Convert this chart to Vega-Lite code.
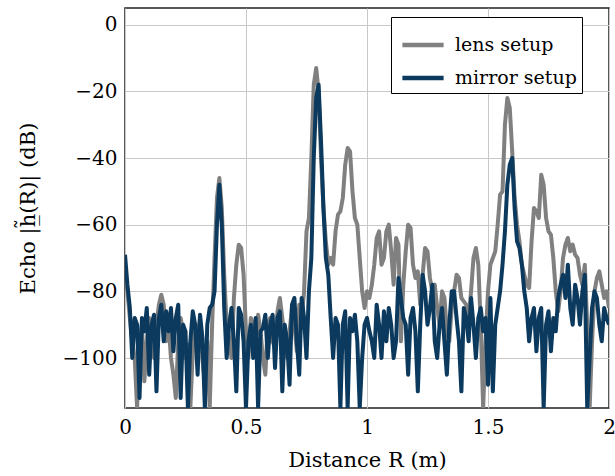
{
  "$schema": "https://vega.github.io/schema/vega-lite/v6.json",
  "autosize": "none",
  "width": 484,
  "height": 400,
  "padding": {"left": 125, "top": 8, "right": 6, "bottom": 68},
  "background": "white",
  "config": {
    "font": "DejaVu Serif",
    "view": {"stroke": "#222222", "strokeWidth": 1.5},
    "axis": {
      "labelFont": "DejaVu Serif",
      "titleFont": "DejaVu Serif",
      "labelFontSize": 20,
      "titleFontSize": 21,
      "titleFontWeight": "normal",
      "labelColor": "black",
      "titleColor": "black",
      "gridColor": "#c8c8c8",
      "gridWidth": 1,
      "domain": false,
      "ticks": false,
      "labelFlush": false
    },
    "legend": {
      "labelFont": "DejaVu Serif",
      "labelFontSize": 19,
      "labelColor": "black"
    }
  },
  "datasets": {
    "lens": [
      {"R":0.00,"dB":-75},{"R":0.01,"dB":-80},{"R":0.02,"dB":-88},{"R":0.03,"dB":-95},{"R":0.04,"dB":-100},{"R":0.05,"dB":-115},{"R":0.06,"dB":-95},{"R":0.07,"dB":-90},{"R":0.08,"dB":-107},{"R":0.09,"dB":-95},
      {"R":0.10,"dB":-88},{"R":0.11,"dB":-92},{"R":0.12,"dB":-100},{"R":0.13,"dB":-90},{"R":0.14,"dB":-84},{"R":0.15,"dB":-81},{"R":0.16,"dB":-84},{"R":0.17,"dB":-95},{"R":0.18,"dB":-90},{"R":0.19,"dB":-100},
      {"R":0.20,"dB":-105},{"R":0.21,"dB":-112},{"R":0.22,"dB":-95},{"R":0.23,"dB":-88},{"R":0.24,"dB":-92},{"R":0.25,"dB":-100},{"R":0.26,"dB":-96},{"R":0.27,"dB":-115},{"R":0.28,"dB":-98},{"R":0.29,"dB":-90},
      {"R":0.30,"dB":-94},{"R":0.31,"dB":-88},{"R":0.32,"dB":-100},{"R":0.33,"dB":-108},{"R":0.34,"dB":-95},{"R":0.35,"dB":-115},{"R":0.36,"dB":-90},{"R":0.37,"dB":-70},{"R":0.38,"dB":-52},{"R":0.39,"dB":-46},
      {"R":0.40,"dB":-55},{"R":0.41,"dB":-75},{"R":0.42,"dB":-90},{"R":0.43,"dB":-95},{"R":0.44,"dB":-100},{"R":0.45,"dB":-82},{"R":0.46,"dB":-72},{"R":0.47,"dB":-66},{"R":0.48,"dB":-67},{"R":0.49,"dB":-75},
      {"R":0.50,"dB":-92},{"R":0.51,"dB":-100},{"R":0.52,"dB":-88},{"R":0.53,"dB":-90},{"R":0.54,"dB":-96},{"R":0.55,"dB":-87},{"R":0.56,"dB":-92},{"R":0.57,"dB":-100},{"R":0.58,"dB":-105},{"R":0.59,"dB":-90},
      {"R":0.60,"dB":-88},{"R":0.61,"dB":-95},{"R":0.62,"dB":-97},{"R":0.63,"dB":-86},{"R":0.64,"dB":-82},{"R":0.65,"dB":-88},{"R":0.66,"dB":-95},{"R":0.67,"dB":-100},{"R":0.68,"dB":-92},{"R":0.69,"dB":-85},
      {"R":0.70,"dB":-90},{"R":0.71,"dB":-98},{"R":0.72,"dB":-84},{"R":0.73,"dB":-88},{"R":0.74,"dB":-80},{"R":0.75,"dB":-62},{"R":0.76,"dB":-58},{"R":0.77,"dB":-40},{"R":0.78,"dB":-18},{"R":0.79,"dB":-13},
      {"R":0.80,"dB":-20},{"R":0.81,"dB":-40},{"R":0.82,"dB":-55},{"R":0.83,"dB":-65},{"R":0.84,"dB":-72},{"R":0.85,"dB":-70},{"R":0.86,"dB":-72},{"R":0.87,"dB":-62},{"R":0.88,"dB":-57},{"R":0.89,"dB":-56},
      {"R":0.90,"dB":-52},{"R":0.91,"dB":-42},{"R":0.92,"dB":-37},{"R":0.93,"dB":-38},{"R":0.94,"dB":-50},{"R":0.95,"dB":-58},{"R":0.96,"dB":-60},{"R":0.97,"dB":-70},{"R":0.98,"dB":-80},{"R":0.99,"dB":-85},
      {"R":1.00,"dB":-80},{"R":1.01,"dB":-82},{"R":1.02,"dB":-78},{"R":1.03,"dB":-72},{"R":1.04,"dB":-64},{"R":1.05,"dB":-62},{"R":1.06,"dB":-72},{"R":1.07,"dB":-70},{"R":1.08,"dB":-62},{"R":1.09,"dB":-60},
      {"R":1.10,"dB":-68},{"R":1.11,"dB":-78},{"R":1.12,"dB":-64},{"R":1.13,"dB":-66},{"R":1.14,"dB":-95},{"R":1.15,"dB":-78},{"R":1.16,"dB":-68},{"R":1.17,"dB":-60},{"R":1.18,"dB":-61},{"R":1.19,"dB":-72},
      {"R":1.20,"dB":-76},{"R":1.21,"dB":-74},{"R":1.22,"dB":-84},{"R":1.23,"dB":-75},{"R":1.24,"dB":-67},{"R":1.25,"dB":-68},{"R":1.26,"dB":-76},{"R":1.27,"dB":-80},{"R":1.28,"dB":-78},{"R":1.29,"dB":-85},
      {"R":1.30,"dB":-90},{"R":1.31,"dB":-80},{"R":1.32,"dB":-82},{"R":1.33,"dB":-92},{"R":1.34,"dB":-95},{"R":1.35,"dB":-85},{"R":1.36,"dB":-80},{"R":1.37,"dB":-75},{"R":1.38,"dB":-76},{"R":1.39,"dB":-82},
      {"R":1.40,"dB":-83},{"R":1.41,"dB":-84},{"R":1.42,"dB":-88},{"R":1.43,"dB":-80},{"R":1.44,"dB":-70},{"R":1.45,"dB":-67},{"R":1.46,"dB":-72},{"R":1.47,"dB":-90},{"R":1.48,"dB":-115},{"R":1.49,"dB":-95},
      {"R":1.50,"dB":-80},{"R":1.51,"dB":-72},{"R":1.52,"dB":-70},{"R":1.53,"dB":-68},{"R":1.54,"dB":-60},{"R":1.55,"dB":-51},{"R":1.56,"dB":-50},{"R":1.57,"dB":-30},{"R":1.58,"dB":-22},{"R":1.59,"dB":-25},
      {"R":1.60,"dB":-38},{"R":1.61,"dB":-52},{"R":1.62,"dB":-60},{"R":1.63,"dB":-65},{"R":1.64,"dB":-72},{"R":1.65,"dB":-75},{"R":1.66,"dB":-78},{"R":1.67,"dB":-79},{"R":1.68,"dB":-65},{"R":1.69,"dB":-55},
      {"R":1.70,"dB":-56},{"R":1.71,"dB":-58},{"R":1.72,"dB":-45},{"R":1.73,"dB":-48},{"R":1.74,"dB":-58},{"R":1.75,"dB":-62},{"R":1.76,"dB":-63},{"R":1.77,"dB":-70},{"R":1.78,"dB":-80},{"R":1.79,"dB":-86},
      {"R":1.80,"dB":-80},{"R":1.81,"dB":-70},{"R":1.82,"dB":-66},{"R":1.83,"dB":-64},{"R":1.84,"dB":-68},{"R":1.85,"dB":-66},{"R":1.86,"dB":-69},{"R":1.87,"dB":-70},{"R":1.88,"dB":-75},{"R":1.89,"dB":-78},
      {"R":1.90,"dB":-72},{"R":1.91,"dB":-90},{"R":1.92,"dB":-115},{"R":1.93,"dB":-95},{"R":1.94,"dB":-80},{"R":1.95,"dB":-76},{"R":1.96,"dB":-74},{"R":1.97,"dB":-78},{"R":1.98,"dB":-82},{"R":1.99,"dB":-80},
      {"R":2.00,"dB":-85}
    ],
    "mirror": [
      {"R":0.00,"dB":-69},{"R":0.01,"dB":-78},{"R":0.02,"dB":-85},{"R":0.03,"dB":-100},{"R":0.04,"dB":-88},{"R":0.05,"dB":-90},{"R":0.06,"dB":-112},{"R":0.07,"dB":-88},{"R":0.08,"dB":-92},{"R":0.09,"dB":-85},
      {"R":0.10,"dB":-105},{"R":0.11,"dB":-90},{"R":0.12,"dB":-87},{"R":0.13,"dB":-110},{"R":0.14,"dB":-88},{"R":0.15,"dB":-84},{"R":0.16,"dB":-95},{"R":0.17,"dB":-86},{"R":0.18,"dB":-92},{"R":0.19,"dB":-85},
      {"R":0.20,"dB":-98},{"R":0.21,"dB":-88},{"R":0.22,"dB":-84},{"R":0.23,"dB":-112},{"R":0.24,"dB":-90},{"R":0.25,"dB":-92},{"R":0.26,"dB":-115},{"R":0.27,"dB":-95},{"R":0.28,"dB":-86},{"R":0.29,"dB":-90},
      {"R":0.30,"dB":-105},{"R":0.31,"dB":-87},{"R":0.32,"dB":-94},{"R":0.33,"dB":-115},{"R":0.34,"dB":-90},{"R":0.35,"dB":-85},{"R":0.36,"dB":-84},{"R":0.37,"dB":-80},{"R":0.38,"dB":-60},{"R":0.39,"dB":-48},
      {"R":0.40,"dB":-60},{"R":0.41,"dB":-85},{"R":0.42,"dB":-100},{"R":0.43,"dB":-90},{"R":0.44,"dB":-85},{"R":0.45,"dB":-95},{"R":0.46,"dB":-110},{"R":0.47,"dB":-85},{"R":0.48,"dB":-87},{"R":0.49,"dB":-95},
      {"R":0.50,"dB":-115},{"R":0.51,"dB":-95},{"R":0.52,"dB":-90},{"R":0.53,"dB":-100},{"R":0.54,"dB":-88},{"R":0.55,"dB":-115},{"R":0.56,"dB":-92},{"R":0.57,"dB":-91},{"R":0.58,"dB":-87},{"R":0.59,"dB":-100},
      {"R":0.60,"dB":-90},{"R":0.61,"dB":-87},{"R":0.62,"dB":-103},{"R":0.63,"dB":-88},{"R":0.64,"dB":-86},{"R":0.65,"dB":-110},{"R":0.66,"dB":-90},{"R":0.67,"dB":-95},{"R":0.68,"dB":-108},{"R":0.69,"dB":-84},
      {"R":0.70,"dB":-82},{"R":0.71,"dB":-95},{"R":0.72,"dB":-105},{"R":0.73,"dB":-82},{"R":0.74,"dB":-88},{"R":0.75,"dB":-100},{"R":0.76,"dB":-80},{"R":0.77,"dB":-70},{"R":0.78,"dB":-40},{"R":0.79,"dB":-22},
      {"R":0.80,"dB":-18},{"R":0.81,"dB":-35},{"R":0.82,"dB":-55},{"R":0.83,"dB":-70},{"R":0.84,"dB":-75},{"R":0.85,"dB":-88},{"R":0.86,"dB":-100},{"R":0.87,"dB":-88},{"R":0.88,"dB":-90},{"R":0.89,"dB":-115},
      {"R":0.90,"dB":-90},{"R":0.91,"dB":-86},{"R":0.92,"dB":-115},{"R":0.93,"dB":-88},{"R":0.94,"dB":-92},{"R":0.95,"dB":-87},{"R":0.96,"dB":-95},{"R":0.97,"dB":-115},{"R":0.98,"dB":-100},{"R":0.99,"dB":-90},
      {"R":1.00,"dB":-88},{"R":1.01,"dB":-92},{"R":1.02,"dB":-95},{"R":1.03,"dB":-100},{"R":1.04,"dB":-84},{"R":1.05,"dB":-90},{"R":1.06,"dB":-100},{"R":1.07,"dB":-86},{"R":1.08,"dB":-95},{"R":1.09,"dB":-85},
      {"R":1.10,"dB":-90},{"R":1.11,"dB":-100},{"R":1.12,"dB":-95},{"R":1.13,"dB":-76},{"R":1.14,"dB":-82},{"R":1.15,"dB":-88},{"R":1.16,"dB":-90},{"R":1.17,"dB":-105},{"R":1.18,"dB":-88},{"R":1.19,"dB":-85},
      {"R":1.20,"dB":-92},{"R":1.21,"dB":-110},{"R":1.22,"dB":-90},{"R":1.23,"dB":-75},{"R":1.24,"dB":-80},{"R":1.25,"dB":-90},{"R":1.26,"dB":-85},{"R":1.27,"dB":-78},{"R":1.28,"dB":-95},{"R":1.29,"dB":-100},
      {"R":1.30,"dB":-90},{"R":1.31,"dB":-85},{"R":1.32,"dB":-95},{"R":1.33,"dB":-105},{"R":1.34,"dB":-90},{"R":1.35,"dB":-80},{"R":1.36,"dB":-80},{"R":1.37,"dB":-88},{"R":1.38,"dB":-95},{"R":1.39,"dB":-110},
      {"R":1.40,"dB":-85},{"R":1.41,"dB":-88},{"R":1.42,"dB":-95},{"R":1.43,"dB":-82},{"R":1.44,"dB":-90},{"R":1.45,"dB":-100},{"R":1.46,"dB":-88},{"R":1.47,"dB":-85},{"R":1.48,"dB":-92},{"R":1.49,"dB":-88},
      {"R":1.50,"dB":-108},{"R":1.51,"dB":-82},{"R":1.52,"dB":-110},{"R":1.53,"dB":-90},{"R":1.54,"dB":-85},{"R":1.55,"dB":-80},{"R":1.56,"dB":-72},{"R":1.57,"dB":-62},{"R":1.58,"dB":-48},{"R":1.59,"dB":-42},
      {"R":1.60,"dB":-40},{"R":1.61,"dB":-55},{"R":1.62,"dB":-65},{"R":1.63,"dB":-67},{"R":1.64,"dB":-72},{"R":1.65,"dB":-80},{"R":1.66,"dB":-85},{"R":1.67,"dB":-95},{"R":1.68,"dB":-88},{"R":1.69,"dB":-85},
      {"R":1.70,"dB":-98},{"R":1.71,"dB":-88},{"R":1.72,"dB":-85},{"R":1.73,"dB":-115},{"R":1.74,"dB":-90},{"R":1.75,"dB":-86},{"R":1.76,"dB":-98},{"R":1.77,"dB":-88},{"R":1.78,"dB":-92},{"R":1.79,"dB":-82},
      {"R":1.80,"dB":-78},{"R":1.81,"dB":-75},{"R":1.82,"dB":-82},{"R":1.83,"dB":-72},{"R":1.84,"dB":-85},{"R":1.85,"dB":-90},{"R":1.86,"dB":-78},{"R":1.87,"dB":-82},{"R":1.88,"dB":-90},{"R":1.89,"dB":-80},
      {"R":1.90,"dB":-75},{"R":1.91,"dB":-115},{"R":1.92,"dB":-100},{"R":1.93,"dB":-85},{"R":1.94,"dB":-80},{"R":1.95,"dB":-82},{"R":1.96,"dB":-90},{"R":1.97,"dB":-95},{"R":1.98,"dB":-85},{"R":1.99,"dB":-88},
      {"R":2.00,"dB":-90}
    ]
  },
  "layer": [
    {
      "data": {"name": "lens"},
      "transform": [{"calculate": "'lens setup'", "as": "setup"}],
      "mark": {"type": "line", "strokeWidth": 4, "clip": true, "strokeJoin": "round"},
      "encoding": {
        "x": {"field": "R", "type": "quantitative", "scale": {"domain": [0, 2], "nice": false},
          "axis": {"values": [0, 0.5, 1, 1.5, 2], "format": "~g", "title": "Distance R (m)", "labelPadding": 9, "titlePadding": 12}},
        "y": {"field": "dB", "type": "quantitative", "scale": {"domain": [-115, 5], "nice": false, "zero": false},
          "axis": {"values": [0, -20, -40, -60, -80, -100], "title": "Echo |h̲̃(R)| (dB)", "labelPadding": 8, "titlePadding": 24}},
        "color": {"field": "setup", "type": "nominal",
          "scale": {"domain": ["lens setup", "mirror setup"], "range": ["#808080", "#0b3a5e"]},
          "legend": {"title": null, "orient": "none", "legendX": 266, "legendY": 9,
            "symbolType": "stroke", "symbolSize": 1700, "symbolStrokeWidth": 4.5,
            "strokeColor": "black", "fillColor": "white", "padding": 5, "rowPadding": -10, "labelOffset": 9, "symbolOffset": 4}}
      }
    },
    {
      "data": {"name": "mirror"},
      "transform": [{"calculate": "'mirror setup'", "as": "setup"}],
      "mark": {"type": "line", "strokeWidth": 4, "clip": true, "strokeJoin": "round"},
      "encoding": {
        "x": {"field": "R", "type": "quantitative"},
        "y": {"field": "dB", "type": "quantitative"},
        "color": {"field": "setup", "type": "nominal"}
      }
    }
  ]
}
